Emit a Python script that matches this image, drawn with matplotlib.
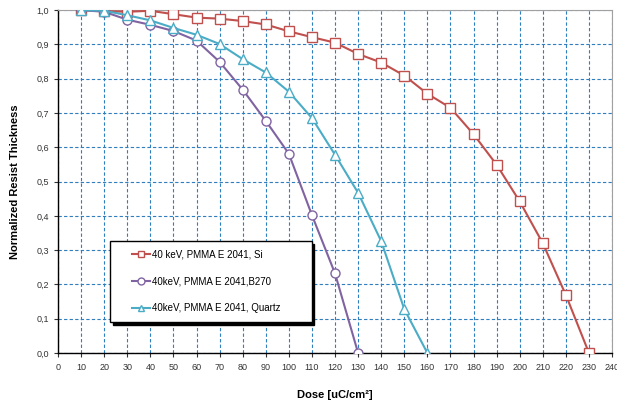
import matplotlib.pyplot as plt
from matplotlib.patches import Rectangle

# -----------------------------
# Data
# -----------------------------
dose_si = [10, 20, 30, 40, 50, 60, 70, 80, 90, 100, 110, 120, 130, 140, 150,
           160, 170, 180, 190, 200, 210, 220, 230]
thick_si = [1.0, 0.997, 0.995, 0.998, 0.988, 0.978, 0.975, 0.968, 0.958, 0.938,
            0.921, 0.905, 0.872, 0.847, 0.809, 0.756, 0.715, 0.638, 0.549,
            0.442, 0.320, 0.169, 0.0]

dose_b270 = [10, 20, 30, 40, 50, 60, 70, 80, 90, 100, 110, 120, 130]
thick_b270 = [1.0, 0.995, 0.972, 0.957, 0.939, 0.911, 0.849, 0.768, 0.677,
              0.581, 0.402, 0.232, 0.0]

dose_quartz = [10, 20, 30, 40, 50, 60, 70, 80, 90, 100, 110, 120, 130, 140,
               150, 160]
thick_quartz = [1.0, 0.998, 0.985, 0.970, 0.948, 0.928, 0.901, 0.857, 0.818,
                0.762, 0.685, 0.578, 0.467, 0.326, 0.128, 0.0]

labels = ["40 keV, PMMA E 2041, Si",
          "40keV, PMMA E 2041,B270",
          "40keV, PMMA E 2041, Quartz"]
colors = ["#c0504d", "#8064a2", "#4bacc6"]
markers = ["s", "o", "^"]

x_ticks = list(range(0, 250, 10))
y_ticks = [i / 10 for i in range(11)]
y_tick_labels = [f"{v:.1f}".replace(".", ",") for v in y_ticks]

# -----------------------------
# Plot
# -----------------------------
plt.rcParams["font.family"] = ["Liberation Sans", "DejaVu Sans"]

fig = plt.figure(figsize=(6.17, 4.03), dpi=100)
ax = fig.add_axes([0.094, 0.124, 0.898, 0.851])

series = [(dose_si, thick_si), (dose_b270, thick_b270), (dose_quartz, thick_quartz)]
for (x, y), c, m, lab in zip(series, colors, markers, labels):
    ax.plot(x, y, color=c, lw=1.5, marker=m, markersize=6.5,
            markerfacecolor="white", markeredgecolor=c, markeredgewidth=1.0,
            label=lab, zorder=3)

ax.set_xlim(0, 240)
ax.set_ylim(0, 1.0)
ax.set_xticks(x_ticks)
ax.set_yticks(y_ticks)
ax.set_yticklabels(y_tick_labels)
ax.tick_params(labelsize=6.5, colors="#333333", length=3, width=0.8)
ax.tick_params(axis="x", pad=4)

ax.grid(True, color="#2f7fbf", linestyle=(0, (3, 2)), linewidth=0.8)
ax.set_axisbelow(True)

for side in ["left", "bottom"]:
    ax.spines[side].set_color("black")
    ax.spines[side].set_linewidth(1.0)
for side in ["top", "right"]:
    ax.spines[side].set_color("#a0a0a0")
    ax.spines[side].set_linewidth(0.8)

ax.set_xlabel("Dose [uC/cm²]", fontsize=8, fontweight="bold", labelpad=13)
ax.set_ylabel("Normalized Resist Thickness", fontsize=8, fontweight="bold",
              labelpad=12)

# -----------------------------
# Legend box with hard shadow
# -----------------------------
box_x, box_y, box_w, box_h = 0.094, 0.090, 0.364, 0.236
px = 2.5 / (ax.bbox.width)
py = 2.5 / (ax.bbox.height)
ax.add_patch(Rectangle((box_x + px, box_y - py), box_w, box_h,
                       transform=ax.transAxes, facecolor="black",
                       edgecolor="black", zorder=4))
ax.add_patch(Rectangle((box_x, box_y), box_w, box_h,
                       transform=ax.transAxes, facecolor="white",
                       edgecolor="black", linewidth=1.0, zorder=4.5))

leg = ax.legend(loc="center left", bbox_to_anchor=(0.133, 0.209),
                fontsize=7, labelspacing=1.75, handlelength=1.9,
                handletextpad=0.15, borderpad=0, borderaxespad=0,
                frameon=False)
for h in leg.legend_handles:
    h.set_markersize(5)
leg.set_zorder(5)

plt.savefig("out.png", dpi=100)
plt.close()
